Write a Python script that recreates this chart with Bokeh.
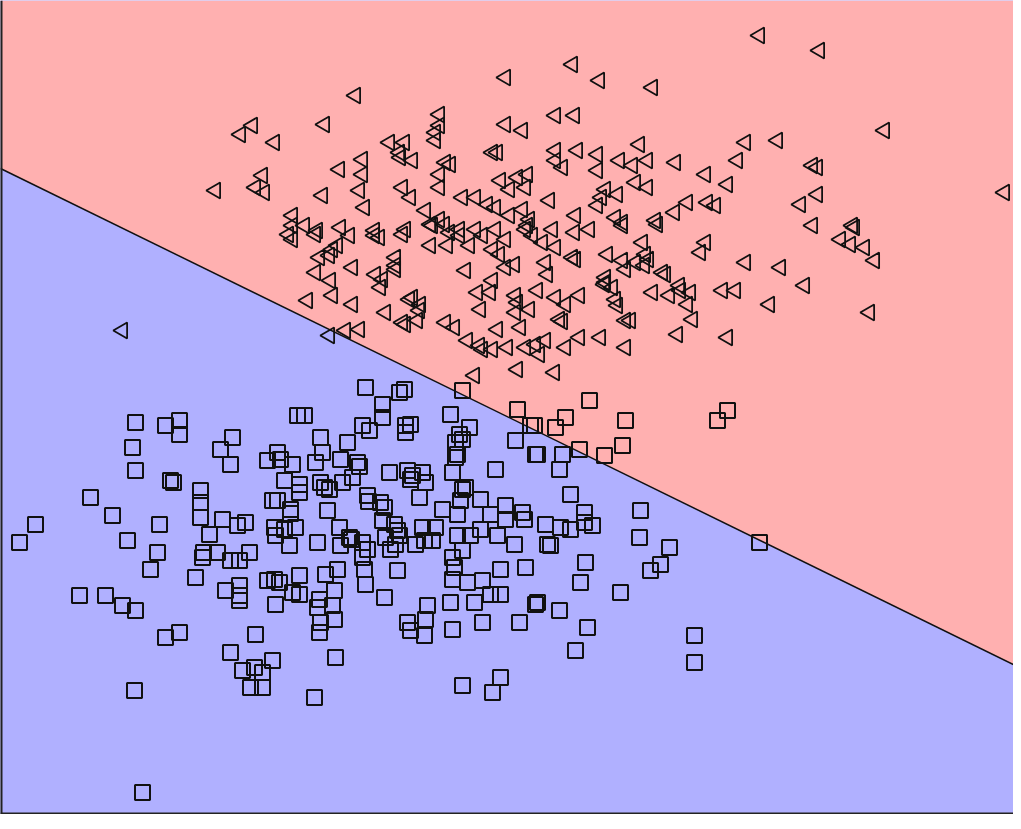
import math
from bokeh.plotting import figure
from bokeh.models import Range1d, Span
from bokeh.embed import file_html
from bokeh.resources import INLINE

# class A (left-pointing triangles): x, y readings (y grows downward)
tri_x = [767, 827, 580, 513, 607, 660, 363,
         447, 447, 443, 443, 332, 260, 248, 282, 892, 753, 785,
         563, 582, 513, 530, 397, 412, 408, 420, 407,
         500, 505, 563, 585, 605, 605, 647, 627, 640, 655, 683, 713, 745, 735, 820, 825,
         563, 570, 370, 347, 370, 453, 458, 447, 447,
         270, 263, 272, 223, 330, 367, 372, 410, 418,
         508, 525, 535, 533, 517, 470, 483, 495, 503, 557,
         433, 447, 438, 452, 517, 530, 537, 535,
         583, 613, 609, 625, 605,
         643, 655, 695, 682, 663, 715, 723, 623, 630, 820, 860, 825, 808, 1012,
         300, 300, 312, 325, 348, 382, 413, 467, 483, 503, 560, 597,
         300, 296, 323, 357, 382, 387, 410,
         345, 340, 327, 337, 323, 338, 360, 383, 390, 388, 403, 403,
         315, 340, 360, 393, 410, 417, 130, 337, 353, 367,
         440, 457, 467, 438, 455, 477, 490, 513, 500, 507,
         533, 540, 550, 563, 582, 615, 580, 583, 403, 473, 513, 522, 553, 555, 500, 613, 612,
         485, 498, 523, 525, 545, 563, 587, 573, 420, 428, 427, 488, 523, 537, 567, 570,
         413, 425, 453, 462, 505, 528,
         475, 487, 490, 500, 515, 533, 543, 547, 553, 573, 587, 608, 525, 562, 482,
         630, 665, 862, 650, 713, 708, 848, 858, 872, 882, 630, 653, 656, 643, 652, 633,
         753, 788, 670, 673, 613, 620, 660, 677, 687, 688, 698, 730, 743, 812,
         623, 625, 695, 777, 633, 638, 700, 877, 685, 735, 633]
tri_y = [43, 58, 72, 85, 88, 95, 103,
         122, 133, 140, 148, 132, 133, 142, 150, 138, 150, 148,
         123, 123, 132, 138, 150, 150, 165, 168, 160,
         160, 160, 158, 158, 162, 178, 152, 168, 173, 168, 170, 182, 168, 192, 173, 175,
         168, 175, 167, 177, 182, 170, 172, 182, 195,
         183, 195, 200, 198, 203, 198, 215, 195, 205,
         188, 185, 182, 195, 197, 205, 205, 212, 215, 208,
         218, 227, 232, 232, 223, 217, 227, 233,
         223, 197, 205, 202, 213,
         190, 195, 210, 220, 228, 210, 213, 225, 230, 233, 233, 202, 212, 200,
         223, 233, 233, 238, 235, 238, 237, 237, 237, 237, 237, 237,
         247, 242, 242, 243, 243, 245, 242,
         253, 257, 265, 263, 280, 288, 275, 282, 287, 295, 273, 265,
         308, 303, 312, 320, 330, 307, 338, 343, 338, 337,
         233, 240, 243, 253, 253, 253, 243, 247, 257, 262,
         237, 243, 250, 255, 240, 262, 265, 267, 277, 278, 275, 272, 270, 282, 288, 285, 292,
         300, 300, 303, 310, 298, 305, 303, 312, 305, 312, 318, 317, 320, 317, 327, 329,
         332, 328, 330, 335, 337, 335,
         348, 353, 357, 357, 355, 355, 352, 362, 348, 355, 345, 345, 377, 380, 383,
         233, 232, 235, 250, 250, 260, 247, 252, 255, 268, 268, 262, 267, 270, 273, 277,
         270, 275, 280, 282, 290, 295, 300, 303, 293, 298, 300, 298, 298, 293,
         307, 313, 312, 312, 328, 328, 327, 320, 342, 345, 355]

# class B (squares)
sq_x = [143, 173, 187, 187, 140, 143, 178, 181, 208, 208, 208, 98, 120, 43, 27, 167, 135, 165, 158,
        217, 210, 203, 87, 113, 130, 143, 173, 187, 142, 150,
        373, 305, 312, 240, 228, 238, 328, 355, 370, 377, 285, 275, 288, 300, 323, 330, 348, 365, 367,
        292, 307, 307, 328, 332, 337, 350, 360, 375, 376, 280, 285, 298, 298, 335, 230, 245, 253,
        282, 283, 292, 303, 297, 325, 347, 348, 357, 359, 370, 211, 225, 257,
        407, 412, 470, 390, 390, 458, 525, 413, 418, 413, 467, 477, 463, 470, 538, 523, 465, 463, 543,
        503, 460, 397, 415, 420, 430, 433, 418, 470, 473, 468, 427, 392, 388, 488, 450, 465, 513, 530,
        532, 513, 498, 553, 390, 402, 405, 407, 393, 403, 430, 443, 432, 440, 465, 478, 488, 505, 522, 555,
        597, 573, 563, 542, 633, 630, 612, 587, 570, 567, 545, 725, 735, 578, 592, 592, 600, 578, 568,
        648, 647, 677, 668, 658, 558, 593, 588, 628, 545, 567, 595, 583, 702, 702, 767,
        238, 247, 233, 247, 247, 247, 275, 282, 287, 307, 300, 307, 283, 333, 345, 342, 327, 325, 340,
        342, 328, 327, 370, 372, 373, 263, 238, 250, 262, 270, 280, 258, 270, 343, 322,
        375, 398, 423, 470, 460, 462, 405, 508, 533, 460, 475, 490, 392, 498, 508, 458, 482, 543,
        435, 433, 415, 418, 432, 460, 490, 527, 470, 508, 500]
sq_y = [430, 433, 428, 442, 455, 478, 488, 490, 498, 510, 525, 505, 523, 532, 550, 532, 548, 560, 577,
        542, 565, 585, 603, 603, 613, 618, 645, 640, 698, 800,
        395, 423, 423, 445, 457, 472, 445, 450, 433, 438, 460, 468, 467, 472, 470, 460, 467, 470, 474,
        488, 492, 500, 490, 495, 497, 490, 485, 503, 509, 508, 508, 517, 521, 518, 527, 533, 530,
        535, 543, 537, 535, 553, 550, 535, 553, 545, 547, 550, 560, 560, 560,
        400, 397, 398, 412, 425, 422, 417, 433, 432, 440, 442, 435, 450, 447, 433, 448, 462, 465, 462,
        477, 480, 480, 478, 483, 480, 490, 487, 497, 495, 508, 505, 515, 510, 507, 517, 522, 513, 520,
        527, 527, 522, 532, 528, 532, 538, 543, 545, 552, 535, 535, 548, 548, 543, 543, 537, 543, 552, 552,
        408, 425, 435, 433, 428, 453, 463, 457, 462, 477, 462, 428, 418, 502, 520, 530, 533, 537, 535,
        518, 545, 555, 572, 578, 553, 570, 590, 600, 610, 618, 635, 658, 643, 670, 550,
        568, 568, 598, 593, 603, 608, 588, 587, 590, 583, 600, 602, 612, 582, 577, 598, 607, 615, 613,
        627, 630, 640, 565, 577, 592, 642, 660, 678, 675, 680, 668, 695, 695, 665, 705,
        557, 557, 552, 558, 565, 575, 578, 577, 575, 587, 590, 588, 605, 602, 602, 610, 610, 612,
        613, 627, 630, 638, 643, 637, 630, 630, 693, 685, 700]

# linear decision boundary: y = b0 + b1 * (x - 6)
b0 = 175.0
b1 = 0.4897
x_lo, x_hi = 8, 1021
y_top, y_bot = 8, 822

p = figure(width=1013, height=814, output_backend="svg", toolbar_location=None,
           x_range=Range1d(x_lo, x_hi), y_range=Range1d(y_bot, y_top),
           min_border=0, outline_line_color=None, background_fill_color="#B0B0FF")
p.axis.visible = False
p.grid.visible = False

def yb(x):
    return b0 + b1 * (x - 6)

p.patch([x_lo, x_hi, x_hi, x_lo], [y_top, y_top, yb(x_hi), yb(x_lo)],
        fill_color="#FFB0B0", line_color=None)
p.patch([x_lo, x_hi, x_hi, x_lo], [yb(x_lo), yb(x_hi), y_bot, y_bot],
        fill_color="#B0B0FF", line_color=None)
p.line([x_lo, x_hi], [yb(x_lo), yb(x_hi)], line_color="#111111", line_width=1.5)

p.scatter(sq_x, sq_y, marker="square", size=15, fill_color=None,
          line_color="#111111", line_width=2)
p.scatter(tri_x, tri_y, marker="triangle", size=16, angle=math.pi / 2, fill_color=None,
          line_color="#111111", line_width=1.8)

p.add_layout(Span(location=x_lo, dimension="height", line_color="#222222", line_width=4))
p.add_layout(Span(location=y_bot, dimension="width", line_color="#222222", line_width=4))

open("out.html", "w").write(file_html(p, INLINE))
